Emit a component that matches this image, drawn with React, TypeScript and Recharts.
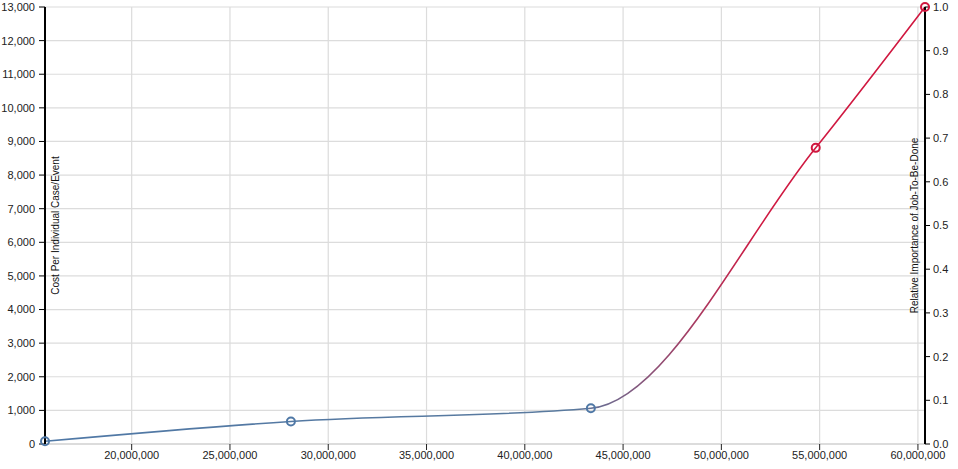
import React from 'react';
import { LineChart, Line, XAxis, YAxis, CartesianGrid } from 'recharts';

const populations = [15590000, 28100000, 43360000, 54800000, 60360000];
const costs = [80, 670, 1064, 8810, 13000];
const importance = [0.006, 0.05, 0.08, 0.68, 1.0];
const pointColors = ['#4f78a6', '#4f78a6', '#4f78a6', '#d0173f', '#d0173f'];

const xTicks = [20000000, 25000000, 30000000, 35000000, 40000000, 45000000, 50000000, 55000000, 60000000];
const yTicks = [0, 1000, 2000, 3000, 4000, 5000, 6000, 7000, 8000, 9000, 10000, 11000, 12000, 13000];
const rightTicks = [0, 0.1, 0.2, 0.3, 0.4, 0.5, 0.6, 0.7, 0.8, 0.9, 1.0];

const leftTitle = 'Cost Per Individual Case/Event';
const rightTitle = 'Relative Importance of Job-To-Be-Done';

const data = populations.map((p, i) => ({ x: p, cost: costs[i], importance: importance[i], color: pointColors[i] }));

const fmt = (v: number) => v.toLocaleString('en-US');
const font = '"Liberation Sans", Arial, sans-serif';

const Dot = (props: any) => {
  const { cx, cy, payload, index } = props;
  if (cx == null || cy == null) return null;
  return <circle key={`d${index}`} cx={cx} cy={cy} r={4} fill="none" stroke={payload.color} strokeWidth={2} />;
};

const leftLabel = (props: any) => {
  const vb = props.viewBox || {};
  const cy = vb.y + vb.height / 2;
  const x = vb.x + vb.width + 14;
  return (
    <text x={x} y={cy} transform={`rotate(-90, ${x}, ${cy})`} textAnchor="middle" fontSize={10} fill="#111" fontFamily={font}>
      {leftTitle}
    </text>
  );
};

const rightLabel = (props: any) => {
  const vb = props.viewBox || {};
  const cy = vb.y + vb.height / 2;
  const x = vb.x - 7;
  return (
    <text x={x} y={cy} transform={`rotate(-90, ${x}, ${cy})`} textAnchor="middle" fontSize={10} fill="#111" fontFamily={font}>
      {rightTitle}
    </text>
  );
};

export default function App() {
  return (
    <div style={{ position: 'absolute', left: 0, top: 0, background: '#fff' }}>
      <LineChart width={958} height={469} data={data} margin={{ top: 7, right: 0, bottom: 0, left: 0 }} style={{ fontFamily: font }}>
        <defs>
          <linearGradient id="lineGrad" x1="0" y1="0" x2="1" y2="0">
            <stop offset="0" stopColor="#4f78a6" />
            <stop offset="0.6" stopColor="#5a7a9e" />
            <stop offset="0.81" stopColor="#cf1a42" />
            <stop offset="1" stopColor="#d0173f" />
          </linearGradient>
        </defs>
        <CartesianGrid yAxisId="left" stroke="#dcdcdc" strokeWidth={1.2} />
        <XAxis
          dataKey="x"
          type="number"
          domain={[15590000, 60360000]}
          ticks={xTicks}
          tickFormatter={fmt}
          height={25}
          axisLine={{ stroke: '#dcdcdc', strokeWidth: 2 }}
          tickLine={{ stroke: '#222' }}
          tickSize={6}
          tickMargin={1}
          tick={{ fontSize: 11, fill: '#222' }}
          interval={0}
        />
        <YAxis
          yAxisId="left"
          domain={[0, 13000]}
          ticks={yTicks}
          tickFormatter={fmt}
          width={45}
          axisLine={{ stroke: '#000', strokeWidth: 2 }}
          tickLine={{ stroke: '#000' }}
          tickSize={6}
          tickMargin={4}
          tick={{ fontSize: 11, fill: '#222' }}
          interval={0}
          label={{ content: leftLabel }}
        />
        <YAxis
          yAxisId="right"
          orientation="right"
          type="number"
          domain={[0, 1]}
          ticks={rightTicks}
          tickFormatter={(v: number) => v.toFixed(1)}
          width={33}
          axisLine={{ stroke: '#000', strokeWidth: 2 }}
          tickLine={{ stroke: '#000' }}
          tickSize={5}
          tickMargin={3}
          tick={{ fontSize: 11, fill: '#222' }}
          interval={0}
          label={{ content: rightLabel }}
        />
        <Line
          yAxisId="right"
          type="monotone"
          dataKey="importance"
          stroke="none"
          dot={false}
          activeDot={false}
          legendType="none"
          isAnimationActive={false}
        />
        <Line
          yAxisId="left"
          type="monotone"
          dataKey="cost"
          stroke="url(#lineGrad)"
          strokeWidth={1.6}
          dot={Dot}
          activeDot={false}
          isAnimationActive={false}
        />
      </LineChart>
    </div>
  );
}
